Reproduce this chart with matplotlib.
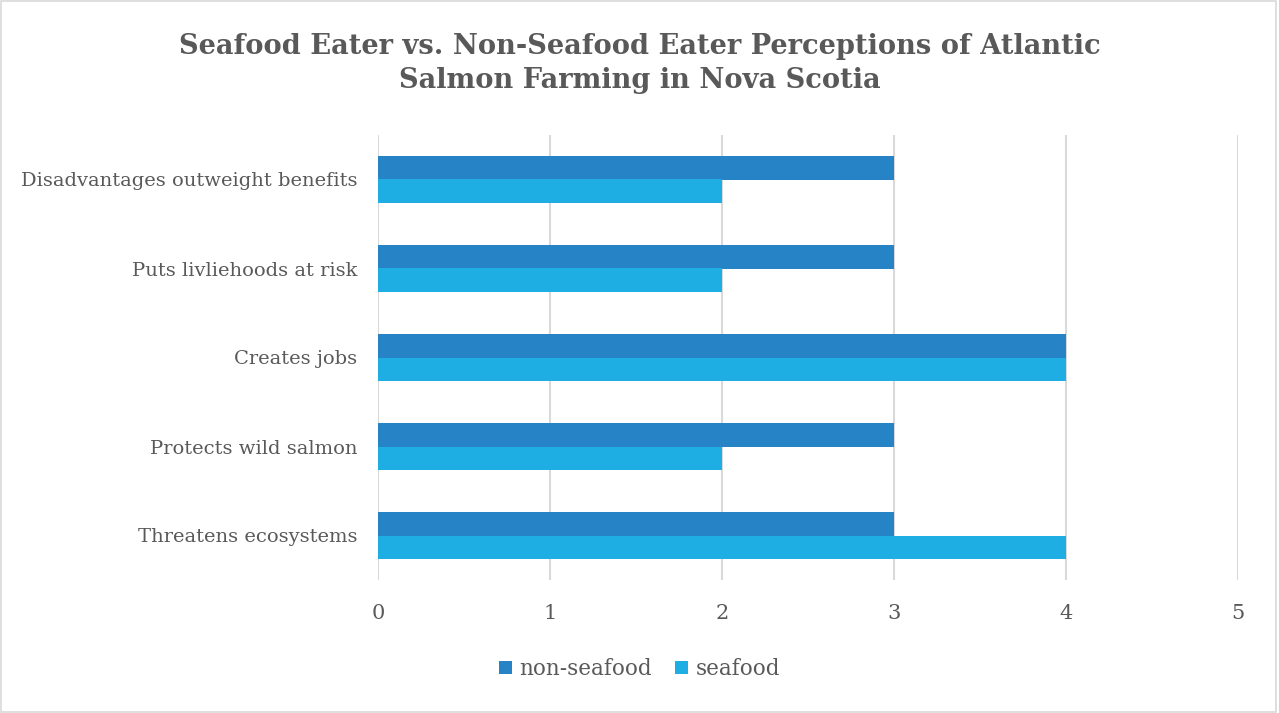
import matplotlib
matplotlib.use("Agg")
import matplotlib.pyplot as plt
import numpy as np
from matplotlib.patches import Rectangle

categories = ["Threatens ecosystems", "Protects wild salmon", "Creates jobs",
              "Puts livliehoods at risk", "Disadvantages outweight benefits"]
non_seafood = [3, 3, 4, 3, 3]
seafood = [4, 2, 4, 2, 2]
series_names = ["non-seafood", "seafood"]
xticks = [0, 1, 2, 3, 4, 5]

c_dark = "#2683C6"
c_light = "#1FAEE3"
txt = "#595959"

plt.rcParams['font.family'] = ['DejaVu Serif']

fig = plt.figure(figsize=(12.79, 7.13), dpi=100)
fig.patches.append(Rectangle((0.001, 0.001), 0.997, 0.997, transform=fig.transFigure,
                             fill=False, edgecolor="#d9d9d9", linewidth=1.2))

ax = fig.add_axes([378/1279, 1-580/713, 860/1279, 445/713])
y = np.arange(len(categories))
h = 0.264
ax.barh(y + h/2, non_seafood, height=h, color=c_dark, label=series_names[0], zorder=3)
ax.barh(y - h/2, seafood, height=h, color=c_light, label=series_names[1], zorder=3)

ax.set_xlim(0, 5)
ax.set_ylim(-0.5, len(categories) - 0.5)
ax.set_xticks(xticks)
ax.set_yticks(y)
ax.set_yticklabels(categories)
ax.grid(axis="x", color="#d9d9d9", linewidth=1.5, zorder=0)
for s in ax.spines.values():
    s.set_visible(False)
ax.tick_params(axis="both", length=0, labelcolor=txt, labelsize=14)
ax.tick_params(axis="x", pad=17, labelsize=15)
ax.tick_params(axis="y", pad=15)

fig.text(0.5, 1-47/713, "Seafood Eater vs. Non-Seafood Eater Perceptions of Atlantic",
         ha="center", va="center", fontsize=19.6, fontweight="bold", color=txt)
fig.text(0.5, 1-80/713, "Salmon Farming in Nova Scotia",
         ha="center", va="center", fontsize=19.6, fontweight="bold", color=txt)

fig.legend(loc="center", bbox_to_anchor=(0.5, 1-669/713), ncol=2, frameon=False,
           fontsize=15.5, labelcolor=txt, handlelength=0.6, handleheight=0.6,
           handletextpad=0.35, columnspacing=1.1)

fig.savefig("out.png", dpi=100)
